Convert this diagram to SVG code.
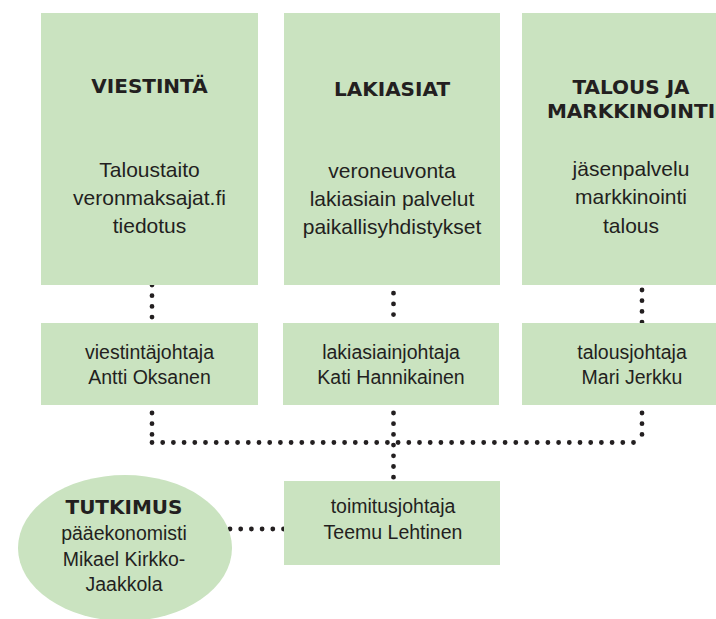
<svg xmlns="http://www.w3.org/2000/svg" width="716" height="619" viewBox="0 0 716 619">
  <style>
    .box { fill: #cae3c0; }
    .h { font-family: "DejaVu Sans", "Liberation Sans", sans-serif; font-weight: bold; font-size: 20px; fill: #231f20; text-anchor: middle; }
    .t { font-family: "Liberation Sans", Arial, sans-serif; font-size: 21px; fill: #231f20; text-anchor: middle; }
    .s { font-family: "Liberation Sans", Arial, sans-serif; font-size: 19.5px; fill: #231f20; text-anchor: middle; }
    .dot { fill: none; stroke: #231f20; stroke-width: 4.8; stroke-linecap: round; stroke-dasharray: 0 10.7; }
  </style>
  <rect width="716" height="619" fill="#ffffff"/>
  <g id="connectors">
    <line class="dot" x1="152" y1="285" x2="152" y2="323"/>
    <line class="dot" x1="393.5" y1="282.5" x2="393.5" y2="323"/>
    <line class="dot" x1="642" y1="290" x2="642" y2="323"/>
    <line class="dot" x1="152" y1="413" x2="152" y2="442.5"/>
    <line class="dot" x1="642" y1="413" x2="642" y2="442.5"/>
    <line class="dot" x1="152" y1="442.5" x2="642" y2="442.5"/>
    <line class="dot" x1="393.5" y1="413" x2="393.5" y2="481"/>
    <line class="dot" x1="230" y1="529" x2="284" y2="529"/>
  </g>
  <g id="viestinta">
    <rect class="box" x="41" y="13" width="217" height="272"/>
    <text class="h" x="149.5" y="93">VIESTINTÄ</text>
    <text class="t" x="149.5" y="177">Taloustaito</text>
    <text class="t" x="149.5" y="205">veronmaksajat.fi</text>
    <text class="t" x="149.5" y="233">tiedotus</text>
  </g>
  <g id="lakiasiat">
    <rect class="box" x="284" y="13" width="216" height="272"/>
    <text class="h" x="392" y="96">LAKIASIAT</text>
    <text class="t" x="392" y="178">veroneuvonta</text>
    <text class="t" x="392" y="206">lakiasiain palvelut</text>
    <text class="t" x="392" y="234">paikallisyhdistykset</text>
  </g>
  <g id="talous">
    <rect class="box" x="522" y="13" width="217" height="272"/>
    <text class="h" x="631" y="94">TALOUS JA</text>
    <text class="h" x="631" y="118">MARKKINOINTI</text>
    <text class="t" x="631" y="176">jäsenpalvelu</text>
    <text class="t" x="631" y="204">markkinointi</text>
    <text class="t" x="631" y="233">talous</text>
  </g>
  <g id="viestintajohtaja">
    <rect class="box" x="41" y="323" width="217" height="82"/>
    <text class="s" x="149.5" y="359">viestintäjohtaja</text>
    <text class="s" x="149.5" y="384">Antti Oksanen</text>
  </g>
  <g id="lakiasiainjohtaja">
    <rect class="box" x="283" y="323" width="216" height="82"/>
    <text class="s" x="391" y="359">lakiasiainjohtaja</text>
    <text class="s" x="391" y="384">Kati Hannikainen</text>
  </g>
  <g id="talousjohtaja">
    <rect class="box" x="522" y="323" width="217" height="82"/>
    <text class="s" x="632" y="359">talousjohtaja</text>
    <text class="s" x="632" y="384">Mari Jerkku</text>
  </g>
  <g id="toimitusjohtaja">
    <rect class="box" x="284" y="481" width="216" height="84"/>
    <text class="s" x="393" y="513">toimitusjohtaja</text>
    <text class="s" x="393" y="539">Teemu Lehtinen</text>
  </g>
  <g id="tutkimus">
    <ellipse class="box" cx="125" cy="548" rx="107" ry="73"/>
    <text class="h" x="124" y="514">TUTKIMUS</text>
    <text class="s" x="124" y="540">pääekonomisti</text>
    <text class="s" x="124" y="566">Mikael Kirkko-</text>
    <text class="s" x="124" y="591">Jaakkola</text>
  </g>
</svg>
